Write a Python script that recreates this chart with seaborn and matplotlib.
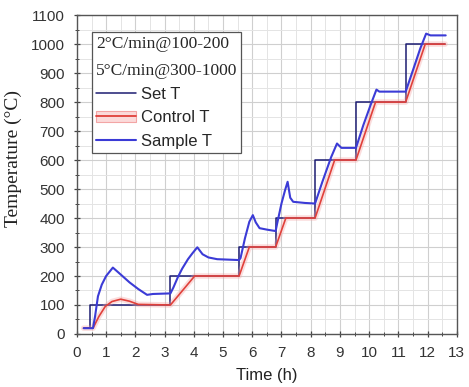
import matplotlib
matplotlib.use("Agg")
import matplotlib.pyplot as plt
import seaborn as sns
import pandas as pd
from matplotlib.lines import Line2D
from matplotlib.patches import Patch
from matplotlib.ticker import MultipleLocator

# ---- data ----
set_time = [0.23, 0.45, 0.45, 3.2, 3.2, 5.55, 5.55, 6.8, 6.8, 8.15, 8.15, 9.55, 9.55, 11.25, 11.25, 12.6]
set_temp = [20, 20, 100, 100, 200, 200, 300, 300, 400, 400, 600, 600, 800, 800, 1000, 1000]

ctrl_time = [0.23, 0.55, 0.75, 0.97, 1.2, 1.5, 1.8, 2.1, 3.2, 4.03, 5.55, 5.9, 6.8, 7.15,
             8.15, 8.82, 9.55, 10.22, 11.25, 11.92, 12.6]
ctrl_temp = [20, 20, 60, 95, 112, 120, 113, 102, 100, 200, 200, 300, 300, 400,
             400, 600, 600, 800, 800, 1000, 1000]

samp_time = [0.23, 0.55, 0.62, 0.72, 0.85, 1.0, 1.23, 1.5, 1.8, 2.1, 2.4, 2.6, 3.2, 3.3,
             3.45, 3.6, 3.8, 3.95, 4.12, 4.3, 4.5, 4.8, 5.55, 5.6, 5.75, 5.9, 6.02, 6.12,
             6.25, 6.5, 6.8, 6.85, 7.0, 7.12, 7.21, 7.3, 7.4, 7.8, 8.15, 8.4, 8.7, 8.9,
             9.05, 9.55, 9.8, 10.05, 10.25, 10.35, 11.25, 11.5, 11.75, 11.95, 12.1, 12.62]
samp_temp = [20, 20, 60, 130, 170, 200, 229, 205, 178, 155, 135, 138, 140, 160,
             195, 225, 258, 278, 299, 275, 264, 258, 255, 262, 330, 387, 410, 385,
             365, 360, 355, 380, 450, 495, 525, 470, 456, 452, 450, 525, 610, 657,
             642, 642, 720, 790, 843, 836, 836, 910, 985, 1036, 1030, 1030]

legend_title = "2°C/min@100-200\n5°C/min@300-1000"
series_labels = ["Set T", "Control T", "Sample T"]

set_df = pd.DataFrame({"t": set_time, "T": set_temp})
ctrl_df = pd.DataFrame({"t": ctrl_time, "T": ctrl_temp})
samp_df = pd.DataFrame({"t": samp_time, "T": samp_temp})

sns.set_theme(style="white")
plt.rcParams["font.family"] = ["Liberation Sans", "DejaVu Sans"]

c_set = "#1c1c72"
c_ctrl = "#e0403a"
c_halo = "#f4a0a0"
c_samp = "#3b3bd6"

fig = plt.figure(figsize=(4.69, 3.87), dpi=100)
ax = fig.add_axes([0.164, 0.137, 0.81, 0.824])

sns.lineplot(data=set_df, x="t", y="T", sort=False, estimator=None, ax=ax,
             color=c_set, lw=1.1, zorder=3)
sns.lineplot(data=ctrl_df, x="t", y="T", sort=False, estimator=None, ax=ax,
             color=c_halo, lw=4, alpha=0.35, zorder=4)
sns.lineplot(data=ctrl_df, x="t", y="T", sort=False, estimator=None, ax=ax,
             color=c_ctrl, lw=1.2, zorder=4)
sns.lineplot(data=samp_df, x="t", y="T", sort=False, estimator=None, ax=ax,
             color=c_samp, lw=1.5, zorder=5)

ax.set_xlim(0, 13)
ax.set_ylim(0, 1100)
ax.xaxis.set_major_locator(MultipleLocator(1))
ax.xaxis.set_minor_locator(MultipleLocator(0.5))
ax.yaxis.set_major_locator(MultipleLocator(100))
ax.yaxis.set_minor_locator(MultipleLocator(50))
ax.grid(which="major", color="#cfcfcf", lw=0.8)
ax.grid(which="minor", color="#e4e4e4", lw=0.7)
ax.set_axisbelow(True)

ax.tick_params(which="both", bottom=True, left=True, direction="inout",
               color="#444444", labelsize=11, labelcolor="#333333")
ax.tick_params(which="major", length=5, width=0.9)
ax.tick_params(axis="x", which="major", pad=6)
ax.tick_params(axis="y", which="major", pad=6)
ax.tick_params(which="minor", length=3, width=0.7)
for s in ax.spines.values():
    s.set_color("#555555")
    s.set_linewidth(1.0)

ax.set_xlabel("Time (h)", fontsize=12, color="#222222", labelpad=6)
ax.set_ylabel("Temperature (°C)", fontsize=14, color="#222222",
              family=["Liberation Serif", "DejaVu Serif"])
ax.yaxis.set_label_coords(-0.145, 0.549)

handles = [
    Line2D([], [], color=c_set, lw=1.1),
    (Patch(facecolor="#fbdada", edgecolor="#f3a5a5", lw=0.8), Line2D([], [], color=c_ctrl, lw=1.3)),
    Line2D([], [], color=c_samp, lw=1.5),
]
leg = ax.legend(handles, series_labels, title=legend_title, loc="upper left",
                bbox_to_anchor=(0.0387, 0.948), alignment="left",
                title_fontproperties={"family": "Liberation Serif", "size": 12.5},
                fontsize=12, frameon=True, fancybox=False, edgecolor="#555555",
                framealpha=1, borderpad=0.25, handlelength=2.4, handletextpad=0.3,
                labelspacing=0.5, borderaxespad=0)
leg.get_title().set_linespacing(1.9)
leg.get_frame().set_linewidth(0.9)
leg.set_zorder(10)

fig.savefig("out.png", dpi=100)
